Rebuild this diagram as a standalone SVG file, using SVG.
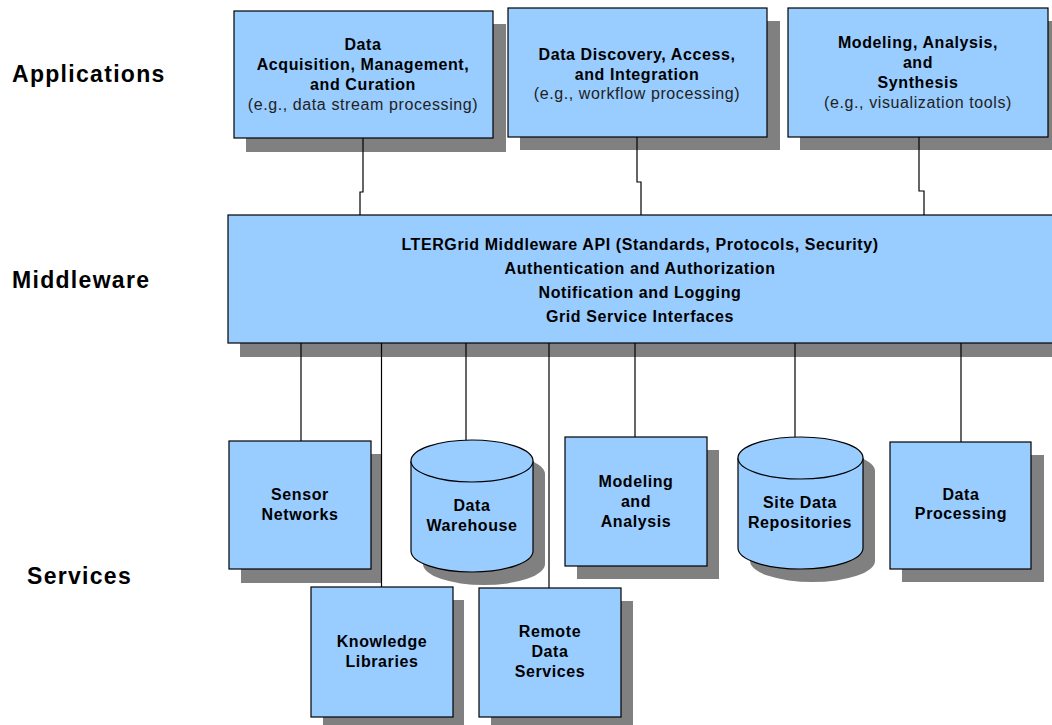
<svg xmlns="http://www.w3.org/2000/svg" width="1052" height="725" viewBox="0 0 1052 725">
<style>
.box{fill:#99CCFF;stroke:#000;stroke-width:1.2}
.sh{fill:#808080}
.t{font-family:"Liberation Sans",Arial,sans-serif;font-size:16px;font-weight:bold;fill:#000;text-anchor:middle;letter-spacing:0.6px}
.n{font-weight:normal;fill:#222}
.lab{font-family:"Liberation Sans",Arial,sans-serif;font-size:23px;font-weight:bold;fill:#000;letter-spacing:1.3px}
.c{fill:none;stroke:#000;stroke-width:1.2}
</style>
<rect width="1052" height="725" fill="#fff"/>
<g id="labels">
<text class="lab" x="12" y="82">Applications</text>
<text class="lab" x="12" y="288">Middleware</text>
<text class="lab" x="27" y="584">Services</text>
</g>
<g id="app1">
<rect class="sh" x="246" y="24" width="260" height="128"/>
<rect class="box" x="234" y="11" width="259" height="127"/>
<text class="t" x="363" y="50">Data</text>
<text class="t" x="363" y="70">Acquisition, Management,</text>
<text class="t" x="363" y="90">and Curation</text>
<text class="t n" x="363" y="110">(e.g., data stream processing)</text>
</g>
<g id="app2">
<rect class="sh" x="520" y="21" width="260" height="129"/>
<rect class="box" x="508" y="8" width="259" height="129"/>
<text class="t" x="637" y="60">Data Discovery, Access,</text>
<text class="t" x="637" y="80">and Integration</text>
<text class="t n" x="637" y="99">(e.g., workflow processing)</text>
</g>
<g id="app3">
<rect class="sh" x="800" y="21" width="260" height="129"/>
<rect class="box" x="788" y="8" width="260" height="129"/>
<text class="t" x="918" y="48">Modeling, Analysis,</text>
<text class="t" x="918" y="68">and</text>
<text class="t" x="918" y="88">Synthesis</text>
<text class="t n" x="918" y="108">(e.g., visualization tools)</text>
</g>
<g id="middleware">
<rect class="sh" x="240" y="228" width="830" height="129"/>
<rect class="box" x="228" y="215" width="840" height="128"/>
<text class="t" x="640" y="250">LTERGrid Middleware API (Standards, Protocols, Security)</text>
<text class="t" x="640" y="274">Authentication and Authorization</text>
<text class="t" x="640" y="298">Notification and Logging</text>
<text class="t" x="640" y="322">Grid Service Interfaces</text>
</g>
<g id="sensor">
<rect class="sh" x="241" y="454" width="141" height="129"/>
<rect class="box" x="229" y="441" width="142" height="128"/>
<text class="t" x="300" y="500">Sensor</text>
<text class="t" x="300" y="520">Networks</text>
</g>
<g id="warehouse">
<path class="sh" d="M423,474 A61,21 0 0 1 545,474 L545,564 A61,21 0 0 1 423,564 Z"/>
<path class="box" d="M411,461 A61,21 0 0 1 533,461 L533,551 A61,21 0 0 1 411,551 Z"/>
<path class="box" d="M411,461 A61,21 0 0 0 533,461"/>
<text class="t" x="472" y="511">Data</text>
<text class="t" x="472" y="531">Warehouse</text>
</g>
<g id="modeling">
<rect class="sh" x="577" y="450" width="142" height="129"/>
<rect class="box" x="565" y="437" width="142" height="129"/>
<text class="t" x="636" y="487">Modeling</text>
<text class="t" x="636" y="507">and</text>
<text class="t" x="636" y="527">Analysis</text>
</g>
<g id="sitedata">
<path class="sh" d="M750,471 A62.5,21 0 0 1 875,471 L875,561 A62.5,21 0 0 1 750,561 Z"/>
<path class="box" d="M738,458 A62.5,21 0 0 1 863,458 L863,548 A62.5,21 0 0 1 738,548 Z"/>
<path class="box" d="M738,458 A62.5,21 0 0 0 863,458"/>
<text class="t" x="800" y="508">Site Data</text>
<text class="t" x="800" y="528">Repositories</text>
</g>
<g id="processing">
<rect class="sh" x="902" y="455" width="142" height="127"/>
<rect class="box" x="890" y="442" width="141" height="127"/>
<text class="t" x="961" y="500">Data</text>
<text class="t" x="961" y="519">Processing</text>
</g>
<g id="knowledge">
<rect class="sh" x="323" y="600" width="141" height="130"/>
<rect class="box" x="311" y="587" width="142" height="130"/>
<text class="t" x="382" y="647">Knowledge</text>
<text class="t" x="382" y="667">Libraries</text>
</g>
<g id="remote">
<rect class="sh" x="491" y="601" width="142" height="130"/>
<rect class="box" x="479" y="588" width="142" height="129"/>
<text class="t" x="550" y="637">Remote</text>
<text class="t" x="550" y="657">Data</text>
<text class="t" x="550" y="677">Services</text>
</g>
<g id="connectors">
<path class="c" d="M363,138 V192 H360 V215"/>
<path class="c" d="M637,137 V182 H641 V215"/>
<path class="c" d="M919,137 V191 H924 V215"/>
<path class="c" d="M301,343 V441"/>
<path class="c" d="M381.5,343 V587"/>
<path class="c" d="M466,343 V440"/>
<path class="c" d="M549,343 V588"/>
<path class="c" d="M635,343 V437"/>
<path class="c" d="M795,343 V437"/>
<path class="c" d="M961,343 V442"/>
</g>
</svg>
